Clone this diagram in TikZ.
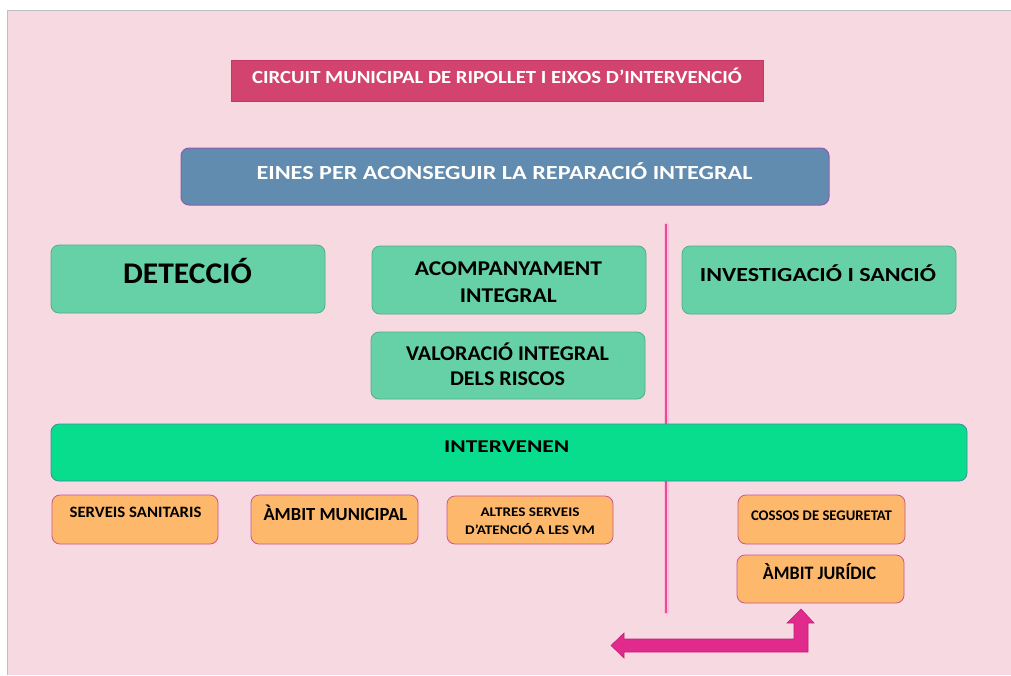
\documentclass[tikz,border=0pt]{standalone}
\usepackage{fontspec}
\setmainfont{Carlito}
\definecolor{bgpink}{HTML}{F6D9E1}
\definecolor{titlefill}{HTML}{D3436F}
\definecolor{titledraw}{HTML}{C23866}
\definecolor{bluefill}{HTML}{618CAF}
\definecolor{bluedraw}{HTML}{8C5CB0}
\definecolor{greenfill}{HTML}{66D0A7}
\definecolor{greendraw}{HTML}{4FB088}
\definecolor{intfill}{HTML}{07DD8C}
\definecolor{intdraw}{HTML}{3A8F9B}
\definecolor{orfill}{HTML}{FDB86B}
\definecolor{ordraw}{HTML}{C9578B}
\definecolor{arrfill}{HTML}{E02A8C}
\definecolor{arrdraw}{HTML}{C41F79}
\definecolor{vline}{HTML}{EE4A95}
\newcommand\mytx[3]{\fontsize{#1}{#1}\selectfont\bfseries\scalebox{#2}[1]{#3}}
\begin{document}
\begin{tikzpicture}[x=1pt,y=-1pt,
  box/.style={rounded corners=8pt, line width=0.8pt, inner sep=0pt},
  titlebox/.style={fill=titlefill, draw=titledraw, line width=0.8pt, inner sep=0pt},
  bluebox/.style={box, fill=bluefill, draw=bluedraw, line width=1pt},
  greenbox/.style={box, fill=greenfill, draw=greendraw},
  intbox/.style={box, fill=intfill, draw=intdraw},
  orbox/.style={box, fill=orfill, draw=ordraw},
  wtxt/.style={text=white, anchor=base, inner sep=0pt},
  btxt/.style={text=black, anchor=base, inner sep=0pt},
]
\useasboundingbox (0,0) rectangle (1011,675);
\fill[white] (0,0) rectangle (1011,675);
\fill[bgpink] (7,10) rectangle (1011,675);
\draw[black!25, line width=0.8pt] (7,675) -- (7,10) -- (1011,10);

% title
\draw[titlebox] (231,60) rectangle (763,101);
\node[wtxt] (title) at (497,83.3) {\mytx{18.5}{1.12}{CIRCUIT MUNICIPAL DE RIPOLLET I EIXOS D’INTERVENCIÓ}};

% blue
\draw[bluebox] (181,148) rectangle (829,205);
\node[wtxt] (eines) at (504.5,179.3) {\mytx{20}{1.21}{EINES PER ACONSEGUIR LA REPARACIÓ INTEGRAL}};

% vertical line
\draw[vline!35, line width=5pt, line cap=round] (666,225) -- (666,612);
\draw[vline, line width=2pt] (666,224) -- (666,613);

% green boxes
\draw[greenbox] (51,245) rectangle (325,313);
\node[btxt] (det) at (187.5,283.3) {\mytx{30}{1.05}{DETECCIÓ}};
\draw[greenbox] (372,246) rectangle (646,314);
\node[btxt] (acomp1) at (508.4,275) {\mytx{21}{1.12}{ACOMPANYAMENT}};
\node[btxt] (acomp2) at (508.4,302.7) {\mytx{21}{1.12}{INTEGRAL}};
\draw[greenbox] (371,332) rectangle (645,399);
\node[btxt] (val1) at (507.5,360) {\mytx{21}{1.05}{VALORACIÓ INTEGRAL}};
\node[btxt] (val2) at (507.5,385.7) {\mytx{21}{1.05}{DELS RISCOS}};
\draw[greenbox] (682,246) rectangle (956,314);
\node[btxt] (inv) at (818,281.7) {\mytx{20}{1.2}{INVESTIGACIÓ I SANCIÓ}};

% intervenen
\draw[intbox] (51,424) rectangle (967,481);
\node[btxt] (intv) at (506.7,452.7) {\mytx{18}{1.3}{INTERVENEN}};

% orange boxes
\draw[orbox] (52,495) rectangle (218,544);
\node[btxt] (san) at (135.5,517.7) {\mytx{15.8}{1.06}{SERVEIS SANITARIS}};
\draw[orbox] (251,495) rectangle (418,544);
\node[btxt] (mun) at (335.4,520) {\mytx{18.5}{1.0}{ÀMBIT MUNICIPAL}};
\draw[orbox] (447,496) rectangle (613,544);
\node[btxt] (alt1) at (530,516) {\mytx{13.2}{1.15}{ALTRES SERVEIS}};
\node[btxt] (alt2) at (530,534.3) {\mytx{13.2}{1.15}{D’ATENCIÓ A LES VM}};
\draw[orbox] (738,495) rectangle (905,544);
\node[btxt] (cos) at (821.5,520) {\mytx{14.7}{1.0}{COSSOS DE SEGURETAT}};
\draw[orbox] (737,555) rectangle (904,603);
\node[btxt] (jur) at (819.5,579) {\mytx{19}{0.95}{ÀMBIT JURÍDIC}};

% bent double arrow
\filldraw[fill=arrfill, draw=arrdraw, line width=0.6pt]
  (611,645.5) -- (624,633) -- (624,639) -- (794,639) -- (794,623) -- (787,623)
  -- (801,609) -- (814,623) -- (808,623) -- (808,652) -- (624,652) -- (624,658) -- cycle;
\end{tikzpicture}
\end{document}
